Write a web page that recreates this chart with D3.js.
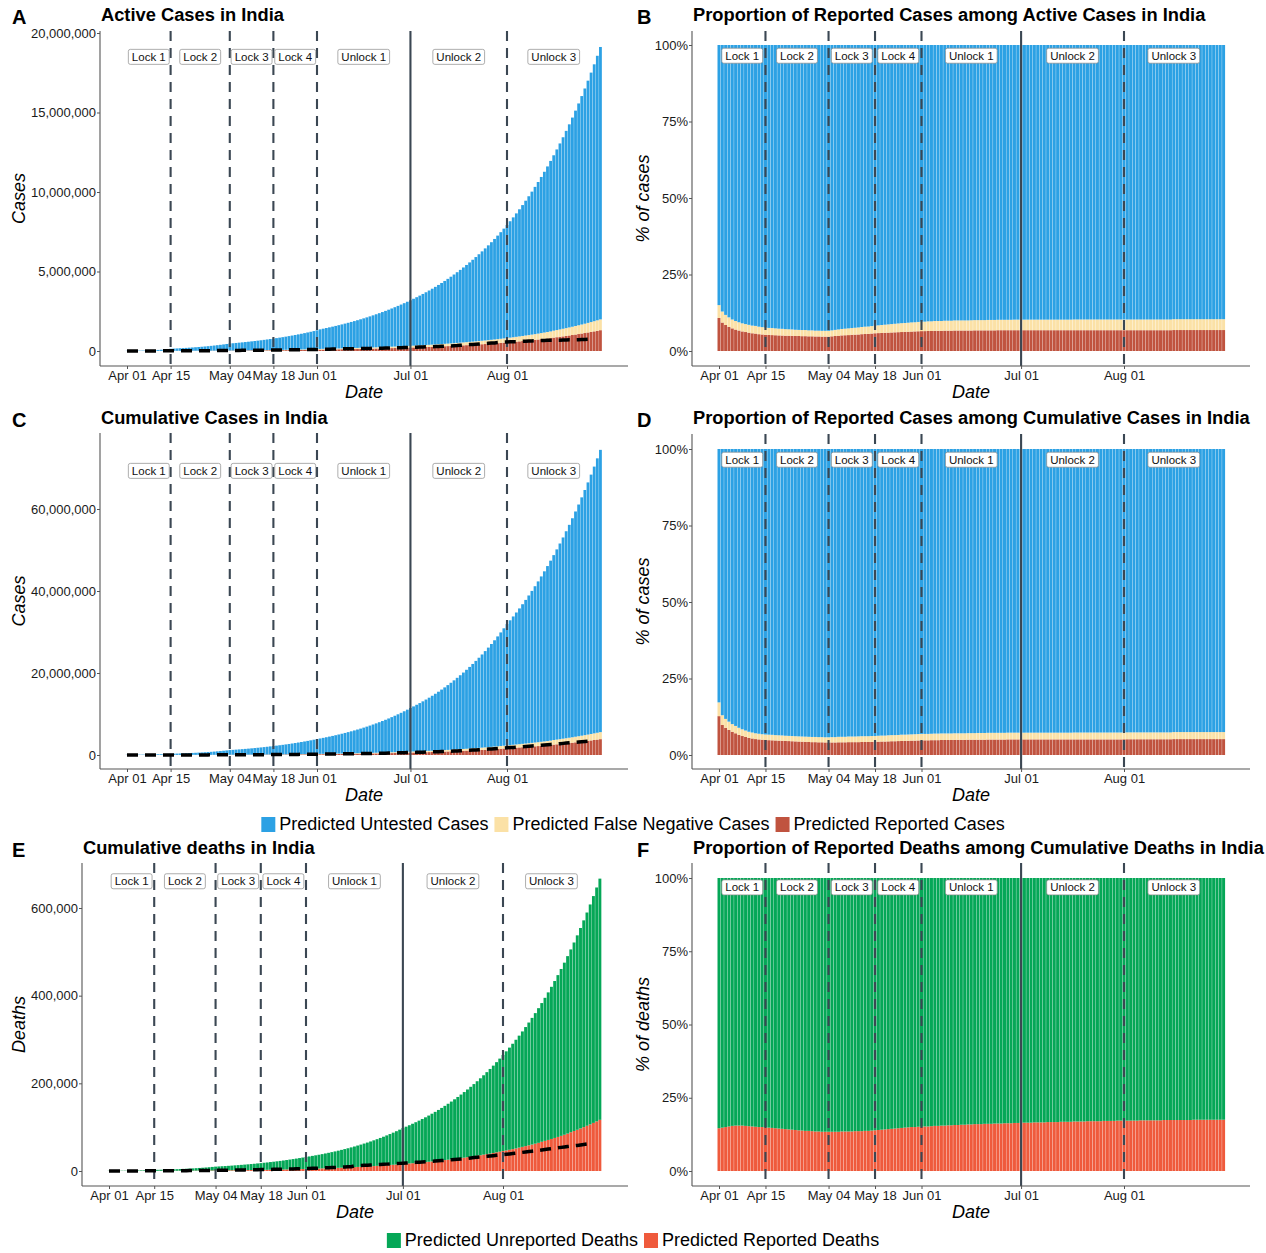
<!DOCTYPE html>
<html>
<head>
<meta charset="utf-8">
<script src="https://cdn.jsdelivr.net/npm/d3@7"></script>
<style>
    body { margin: 0; background: #fff; }
    svg { display: block; font-family: "Liberation Sans", Arial, sans-serif; }
</style>
</head>
<body>
<div id="chart"></div>
<script>

// ---- data (day 0 = 2020-04-01, one value per day) ----
const startDate = "2020-04-01";
const tickDates = ["2020-04-01", "2020-04-15", "2020-05-04", "2020-05-18", "2020-06-01", "2020-07-01", "2020-08-01"];
const phaseEdges = ["2020-04-01", "2020-04-15", "2020-05-04", "2020-05-18", "2020-06-01", "2020-07-01", "2020-08-01", "2020-08-31"];
const phaseNames = ["Lock 1", "Lock 2", "Lock 3", "Lock 4", "Unlock 1", "Unlock 2", "Unlock 3"];
const solidLineDate = "2020-07-01";

// predicted active cases, thousands
const activeTotal = [
    10,12,15,18,22,26,32,38,46,55,67,80,97,117,140,152,162,173,184,196,209,222,237,252,268,285,303,323,344,366,
    389,414,441,469,487,505,524,543,563,584,606,628,651,675,700,726,753,781,810,840,871,903,937,972,1008,1045,1084,1124,1166,1209,1254,
    1300,1362,1403,1445,1488,1532,1578,1625,1673,1723,1774,1827,1881,1937,1995,2054,2115,2178,2243,2310,2379,2450,2523,2598,2675,2755,2837,2921,3008,3098,
    3190,3285,3383,3484,3588,3694,3804,3918,4034,4155,4278,4406,4537,4672,4811,4955,5102,5254,5411,5572,5738,5909,6085,6266,6453,6645,6843,7047,7257,7473,7696,
    7925,8161,8404,8655,8913,9178,9452,9733,10023,10322,10629,10946,11272,11608,11954,12310,12677,13054,13443,13844,14256,14681,15118,15569,16033,16510,17002,17509,18030,18567,19121
];
// share of active cases that are reported / false negative, %
const activeReportedPct = [
    10.8,9.3,8.5,7.9,7.4,7.0,6.7,6.4,6.2,6.0,5.8,5.7,5.5,5.4,5.3,5.25,5.2,5.15,5.1,5.05,5.0,5.0,4.95,4.9,4.9,4.85,4.85,4.8,4.8,4.75,
    4.75,4.7,4.7,4.7,4.8,4.9,5.0,5.1,5.15,5.2,5.3,5.35,5.4,5.5,5.55,5.6,5.7,5.8,5.85,5.9,5.95,6.0,6.05,6.1,6.15,6.2,6.25,6.3,6.35,6.4,6.45,
    6.5,6.5,6.55,6.55,6.6,6.6,6.6,6.65,6.65,6.65,6.7,6.7,6.7,6.7,6.7,6.7,6.75,6.75,6.75,6.75,6.75,6.75,6.75,6.8,6.8,6.8,6.8,6.8,6.8,6.8,
    6.8,6.8,6.8,6.8,6.8,6.8,6.8,6.8,6.8,6.8,6.8,6.8,6.8,6.8,6.8,6.8,6.8,6.8,6.8,6.8,6.8,6.8,6.8,6.8,6.8,6.8,6.8,6.8,6.8,6.8,6.8,
    6.8,6.8,6.8,6.8,6.8,6.8,6.8,6.8,6.8,6.8,6.8,6.8,6.8,6.8,6.8,6.85,6.85,6.85,6.85,6.85,6.85,6.85,6.85,6.85,6.85,6.85,6.85,6.85,6.85,6.85,6.85
];
const activeFalseNegPct = [
    4.2,3.6,3.3,3.1,2.9,2.8,2.7,2.65,2.6,2.55,2.5,2.5,2.45,2.4,2.35,2.3,2.3,2.25,2.2,2.2,2.15,2.1,2.1,2.05,2.0,2.0,2.0,1.95,1.95,1.9,
    1.9,1.9,1.9,1.9,1.95,2.0,2.05,2.1,2.15,2.2,2.2,2.25,2.3,2.35,2.4,2.4,2.45,2.5,2.55,2.6,2.65,2.7,2.75,2.8,2.85,2.9,2.9,2.95,3.0,3.0,3.05,
    3.1,3.1,3.15,3.15,3.2,3.2,3.2,3.25,3.25,3.25,3.3,3.3,3.3,3.3,3.3,3.35,3.35,3.35,3.35,3.35,3.4,3.4,3.4,3.4,3.4,3.4,3.4,3.4,3.45,3.45,
    3.45,3.45,3.45,3.45,3.45,3.45,3.45,3.45,3.45,3.45,3.45,3.45,3.45,3.45,3.45,3.45,3.5,3.5,3.5,3.5,3.5,3.5,3.5,3.5,3.5,3.5,3.5,3.5,3.5,3.5,3.5,
    3.5,3.5,3.5,3.5,3.5,3.5,3.5,3.5,3.5,3.5,3.5,3.5,3.5,3.5,3.5,3.55,3.55,3.55,3.55,3.55,3.55,3.55,3.55,3.55,3.55,3.55,3.55,3.55,3.55,3.55,3.55
];

// predicted cumulative cases, thousands
const cumTotal = [
    50,57,65,73,83,95,108,122,139,158,180,204,232,264,300,323,347,374,402,432,465,500,538,579,623,670,721,775,834,897,
    965,1038,1117,1201,1254,1309,1366,1426,1489,1554,1622,1694,1768,1846,1927,2011,2100,2192,2284,2379,2479,2582,2690,2803,2920,3042,3169,3301,3439,3583,3733,
    3889,4032,4180,4333,4492,4657,4828,5005,5189,5379,5577,5781,5993,6213,6441,6678,6923,7177,7440,7713,7996,8290,8594,8909,9236,9575,9927,10291,10669,11060,
    11466,11851,12249,12661,13086,13526,13980,14450,14936,15437,15956,16492,17046,17619,18211,18823,19455,20109,20785,21483,22205,22951,23722,24519,25343,26194,27074,27984,28924,29896,30901,
    31939,32852,33792,34758,35752,36775,37827,38908,40021,41166,42343,43554,44800,46081,47399,48755,50149,51583,53059,54576,56137,57743,59394,61093,62840,64637,66486,68387,70343,72355,74424
];
const cumReportedPct = [
    12.7,9.8,8.9,8.2,7.6,7.1,6.6,6.2,5.9,5.6,5.4,5.2,5.1,5.0,4.9,4.85,4.8,4.75,4.7,4.65,4.6,4.55,4.5,4.45,4.4,4.35,4.3,4.25,4.2,4.2,
    4.15,4.15,4.1,4.1,4.1,4.1,4.15,4.15,4.15,4.2,4.2,4.2,4.2,4.25,4.25,4.25,4.3,4.3,4.35,4.4,4.4,4.45,4.5,4.5,4.55,4.6,4.6,4.65,4.7,4.7,4.75,
    4.8,4.8,4.8,4.85,4.85,4.85,4.9,4.9,4.9,4.9,4.95,4.95,4.95,4.95,5.0,5.0,5.0,5.0,5.0,5.0,5.05,5.05,5.05,5.05,5.05,5.05,5.1,5.1,5.1,5.1,
    5.1,5.1,5.1,5.1,5.1,5.1,5.1,5.1,5.1,5.1,5.1,5.1,5.1,5.1,5.1,5.1,5.1,5.1,5.1,5.1,5.1,5.1,5.1,5.1,5.1,5.1,5.1,5.1,5.1,5.1,5.1,
    5.15,5.15,5.15,5.15,5.15,5.15,5.15,5.15,5.15,5.15,5.15,5.15,5.15,5.15,5.15,5.2,5.2,5.2,5.2,5.2,5.2,5.2,5.2,5.2,5.2,5.2,5.2,5.2,5.2,5.2,5.2
];
const cumFalseNegPct = [
    4.5,3.2,2.9,2.7,2.5,2.4,2.3,2.2,2.1,2.0,1.95,1.9,1.85,1.8,1.8,1.8,1.8,1.75,1.75,1.75,1.7,1.7,1.7,1.7,1.7,1.7,1.7,1.7,1.7,1.7,
    1.7,1.7,1.7,1.7,1.75,1.75,1.8,1.8,1.8,1.85,1.85,1.85,1.9,1.9,1.9,1.9,1.9,1.9,1.95,1.95,1.95,2.0,2.0,2.0,2.0,2.05,2.05,2.05,2.05,2.1,2.1,
    2.1,2.1,2.1,2.1,2.15,2.15,2.15,2.15,2.15,2.15,2.15,2.15,2.15,2.15,2.15,2.15,2.15,2.2,2.2,2.2,2.2,2.2,2.2,2.2,2.2,2.2,2.2,2.2,2.2,2.2,
    2.2,2.2,2.2,2.2,2.2,2.2,2.2,2.2,2.2,2.2,2.2,2.2,2.2,2.2,2.2,2.2,2.25,2.25,2.25,2.25,2.25,2.25,2.25,2.25,2.25,2.25,2.25,2.25,2.25,2.25,2.25,
    2.25,2.25,2.25,2.25,2.25,2.25,2.25,2.25,2.25,2.25,2.25,2.25,2.25,2.25,2.25,2.3,2.3,2.3,2.3,2.3,2.3,2.3,2.3,2.3,2.3,2.3,2.3,2.3,2.3,2.3,2.3
];

// predicted cumulative deaths, thousands
const deathTotal = [
    0.4,0.46,0.52,0.59,0.68,0.77,0.88,1.0,1.14,1.3,1.48,1.69,1.93,2.2,2.5,2.69,2.89,3.11,3.35,3.6,3.87,4.17,4.48,4.82,5.19,5.58,6.0,6.46,6.95,7.47,
    8.04,8.65,9.3,10.0,10.4,10.9,11.3,11.8,12.3,12.9,13.4,14.0,14.6,15.2,15.9,16.5,17.3,18.0,18.8,19.5,20.4,21.2,22.1,23.0,24.0,25.0,26.1,27.2,28.3,29.5,30.7,
    32.0,33.2,34.5,35.8,37.1,38.5,40.0,41.5,43.1,44.7,46.4,48.2,50.0,51.9,53.9,55.9,58.1,60.3,62.6,64.9,67.4,70.0,72.6,75.4,78.2,81.2,84.3,87.5,90.8,94.3,
    97.9,101.1,104.4,107.8,111.3,114.9,118.7,122.5,126.5,130.7,134.9,139.3,143.9,148.6,153.4,158.4,163.6,168.9,174.4,180.1,186.0,192.1,198.3,204.8,211.5,218.4,225.5,232.8,240.4,248.3,256.4,
    264.7,273.0,281.5,290.3,299.4,308.8,318.4,328.4,338.7,349.3,360.2,371.5,383.1,395.1,407.5,420.2,433.4,446.9,460.9,475.3,490.2,505.5,521.3,537.6,554.4,571.8,589.7,608.1,627.2,646.8,667.0
];
const deathReportedPct = [
    14.6,14.8,15.0,15.2,15.4,15.5,15.5,15.5,15.4,15.3,15.2,15.1,15.0,15.0,14.9,14.8,14.7,14.6,14.5,14.4,14.3,14.2,14.1,14.0,13.9,13.8,13.7,13.7,13.6,13.5,
    13.5,13.4,13.4,13.4,13.4,13.4,13.4,13.5,13.5,13.5,13.5,13.6,13.6,13.6,13.7,13.7,13.8,13.9,14.0,14.1,14.2,14.3,14.4,14.5,14.6,14.7,14.8,14.9,15.0,15.0,15.1,
    15.1,15.2,15.2,15.3,15.4,15.4,15.5,15.5,15.6,15.6,15.7,15.7,15.8,15.8,15.9,15.9,16.0,16.0,16.0,16.1,16.1,16.1,16.2,16.2,16.2,16.3,16.3,16.3,16.4,16.4,
    16.5,16.5,16.5,16.5,16.6,16.6,16.6,16.6,16.7,16.7,16.7,16.7,16.8,16.8,16.8,16.8,16.9,16.9,16.9,16.9,17.0,17.0,17.0,17.0,17.0,17.1,17.1,17.1,17.1,17.2,17.2,
    17.2,17.2,17.2,17.2,17.2,17.3,17.3,17.3,17.3,17.3,17.3,17.3,17.4,17.4,17.4,17.4,17.4,17.4,17.4,17.4,17.4,17.5,17.5,17.5,17.5,17.5,17.5,17.5,17.5,17.5,17.5
];

// observed (reported) series, thousands, Apr 01 - Aug 27
const observedActive = [
    1.8,2.3,2.8,3.2,3.9,4.3,4.8,5.2,5.9,6.6,7.4,8.0,9.1,9.8,10.5,11.2,11.9,12.9,14.2,14.7,15.5,16.5,17.6,18.7,19.9,20.8,21.6,22.6,23.6,24.6,
    26.0,27.6,29.5,32.1,33.5,35.9,37.9,39.8,41.5,44.0,45.9,47.5,49.2,51.4,53.0,53.9,55.9,57.9,61.1,63.6,66.3,69.6,73.6,77.1,80.7,83.0,86.4,89.7,89.9,91.8,93.3,
    97.6,101.5,106.7,110.9,115.9,120.4,125.4,129.2,133.6,137.4,141.8,147.2,149.3,153.1,153.2,155.2,160.4,163.2,168.3,174.4,178.0,178.0,183.0,186.5,189.5,197.4,203.1,210.1,215.1,220.1,
    226.9,227.4,235.4,244.8,253.3,259.6,264.9,269.8,276.7,283.4,292.3,301.6,311.6,319.8,331.1,342.5,358.7,373.4,390.5,401.3,411.1,426.2,440.1,456.1,467.9,485.1,496.9,509.4,528.2,545.3,565.1,
    567.7,579.4,586.2,587.6,595.5,607.4,619.1,628.7,634.9,643.9,653.6,661.6,668.2,676.9,680.0,676.5,673.2,676.9,692.0,697.3,707.3,704.3,704.3,710.8,725.9,725.9,736.0
];
const observedCases = [
    2.0,2.5,3.1,3.6,4.3,4.8,5.3,5.9,6.7,7.6,8.4,9.2,10.5,11.5,12.3,13.4,14.4,15.7,17.6,18.5,20.1,21.4,23.1,24.5,26.3,27.9,29.5,31.3,33.1,34.9,
    37.3,39.7,42.5,46.4,49.4,53.0,56.4,59.7,62.8,67.2,70.8,74.3,78.1,82.0,85.8,90.6,95.7,100.3,106.5,112.0,118.2,124.8,131.4,138.5,145.0,150.8,158.1,165.4,173.5,181.8,190.6,
    198.4,207.2,216.8,226.7,236.2,246.6,257.5,265.9,276.1,286.6,297.5,309.0,320.9,332.4,343.1,354.1,366.9,380.5,395.0,410.5,425.3,440.2,456.2,473.1,490.4,509.0,528.9,548.3,566.8,585.5,
    604.6,625.5,648.3,673.2,697.4,719.7,742.4,767.3,793.8,820.9,849.6,878.3,906.8,936.2,968.9,1003.8,1038.7,1077.8,1118.0,1155.2,1193.1,1238.6,1288.1,1337.0,1385.5,1435.5,1483.2,1531.7,1583.8,1638.9,1696.0,
    1750.7,1803.7,1855.7,1908.3,1964.5,2027.1,2088.6,2153.0,2215.1,2268.7,2329.6,2396.6,2461.2,2526.2,2589.7,2647.7,2702.7,2767.3,2836.9,2905.8,2975.7,3044.9,3106.3,3167.3,3234.5,3310.2,3387.5
];
const observedDeaths = [
    0.06,0.07,0.08,0.10,0.12,0.14,0.15,0.17,0.21,0.24,0.27,0.31,0.35,0.38,0.41,0.44,0.47,0.52,0.56,0.59,0.65,0.68,0.72,0.78,0.83,0.88,0.94,1.01,1.08,1.15,
    1.22,1.32,1.39,1.57,1.69,1.78,1.89,1.98,2.11,2.21,2.29,2.42,2.55,2.65,2.75,2.87,3.03,3.16,3.30,3.44,3.58,3.72,3.87,4.02,4.17,4.34,4.53,4.71,4.97,5.16,5.39,
    5.60,5.83,6.08,6.35,6.64,6.93,7.20,7.47,7.75,8.10,8.50,8.88,9.20,9.52,9.90,11.90,12.24,12.57,12.95,13.25,13.70,14.01,14.48,14.89,15.30,15.69,16.10,16.48,16.89,17.40,
    17.83,18.21,18.66,19.27,19.69,20.16,20.64,21.13,21.60,22.12,22.67,23.17,23.73,24.31,24.92,25.60,26.27,26.82,27.50,28.08,28.73,29.86,30.60,31.36,32.06,32.77,33.43,34.19,34.97,35.75,36.51,
    37.36,38.13,38.94,39.79,40.70,41.59,42.52,43.38,44.39,45.26,46.09,47.03,48.04,49.04,49.98,50.92,51.80,52.89,53.87,54.85,55.79,56.71,57.54,58.39,59.45,60.47,61.53
];

const caseTicks = [0, 5000, 10000, 15000, 20000];
const cumTicks = [0, 20000, 40000, 60000];
const deathTicks = [0, 200, 400, 600];
const pctTicks = [0, 25, 50, 75, 100];

const colUntested = "#2ca1e4";
const colFalseNeg = "#fbe1a6";
const colReported = "#c0533f";
const colUnrepDeath = "#05a757";
const colRepDeath = "#ef5a3c";
const colPhase = "#3b4753";

// ---- helpers ----
const parseDay = d3.utcParse("%Y-%m-%d");
const day0 = parseDay(startDate);
const dayDate = i => d3.utcDay.offset(day0, i);

const svg = d3.select("#chart").append("svg")
    .attr("width", 1266)
    .attr("height", 1253);

function countRows(total, repPct, fnPct) {
    return total.map((t, i) => ({
        date: dayDate(i),
        rep: t * repPct[i] / 100,
        fn: t * fnPct[i] / 100,
        untested: t * (100 - repPct[i] - fnPct[i]) / 100
    }));
}
function pctRows(total, repPct, fnPct) {
    return total.map((t, i) => ({
        date: dayDate(i),
        rep: repPct[i],
        fn: fnPct[i],
        untested: 100 - repPct[i] - fnPct[i]
    }));
}
function deathRows(total, repPct, asPct) {
    return total.map((t, i) => ({
        date: dayDate(i),
        rep: asPct ? repPct[i] : t * repPct[i] / 100,
        unrep: asPct ? 100 - repPct[i] : t * (100 - repPct[i]) / 100
    }));
}

const caseLayers = [
    {key: "rep", color: colReported},
    {key: "fn", color: colFalseNeg},
    {key: "untested", color: colUntested}
];
const deathLayers = [
    {key: "rep", color: colRepDeath},
    {key: "unrep", color: colUnrepDeath}
];

// ---- panel ----
StackPanel = function(_svg, _cfg) {
    this.svg = _svg;
    this.cfg = _cfg;
    this.initVis();
};

StackPanel.prototype.initVis = function() {
    let vis = this;
    const c = vis.cfg;

    vis.g = vis.svg.append("g");

    vis.x = d3.scaleUtc()
        .domain([dayDate(0), dayDate(122)])
        .range([c.x0, c.x122]);
    vis.y = d3.scaleLinear()
        .domain([0, c.yRef])
        .range([c.y0, c.yRefPos]);

    const bw = (vis.x(dayDate(1)) - vis.x(dayDate(0))) * 0.9;

    // stacked bars
    const stacked = d3.stack().keys(c.layers.map(l => l.key))(c.rows);
    vis.g.selectAll("g.layer")
        .data(stacked)
        .enter().append("g")
        .attr("class", "layer")
        .attr("fill", (d, i) => c.layers[i].color)
        .selectAll("rect")
        .data(d => d)
        .enter().append("rect")
        .attr("x", d => vis.x(d.data.date) - bw / 2)
        .attr("width", bw)
        .attr("y", d => vis.y(d[1]))
        .attr("height", d => Math.max(0, vis.y(d[0]) - vis.y(d[1])));

    // phase lines
    const breaks = phaseEdges.slice(1, phaseEdges.length - 1);
    vis.g.selectAll("line.phase")
        .data(breaks)
        .enter().append("line")
        .attr("class", "phase")
        .attr("x1", d => vis.x(parseDay(d)))
        .attr("x2", d => vis.x(parseDay(d)))
        .attr("y1", c.top)
        .attr("y2", c.bottom)
        .attr("stroke", colPhase)
        .attr("stroke-width", 2.1)
        .attr("stroke-dasharray", d => d === solidLineDate ? null : "10,7");

    // observed series
    if (c.observed) {
        const line = d3.line()
            .x((d, i) => vis.x(dayDate(i)))
            .y(d => vis.y(d));
        vis.g.append("path")
            .datum(c.observed)
            .attr("d", line)
            .attr("fill", "none")
            .attr("stroke", "#000")
            .attr("stroke-width", 3.5)
            .attr("stroke-dasharray", "11,7");
    }

    // phase labels
    phaseNames.forEach((name, i) => {
        const mx = (vis.x(parseDay(phaseEdges[i])) + vis.x(parseDay(phaseEdges[i + 1]))) / 2;
        const my = vis.y(c.labelY);
        const lg = vis.g.append("g");
        const box = lg.append("rect");
        const t = lg.append("text")
            .attr("x", mx)
            .attr("y", my + 4)
            .attr("text-anchor", "middle")
            .attr("font-size", 11.5)
            .attr("fill", "#111")
            .text(name);
        const w = t.node().getComputedTextLength() + 7;
        box.attr("x", mx - w / 2).attr("y", my - 7.5)
            .attr("width", w).attr("height", 15)
            .attr("rx", 2)
            .attr("fill", "#fff")
            .attr("stroke", "#8a8a8a")
            .attr("stroke-width", 0.7);
    });

    // axes
    const yAxis = d3.axisLeft(vis.y)
        .tickValues(c.yTicks)
        .tickSize(3)
        .tickPadding(1)
        .tickFormat(c.yFormat);
    const ya = vis.g.append("g")
        .attr("transform", "translate(" + c.left + ",0)")
        .call(yAxis);
    const xAxis = d3.axisBottom(vis.x)
        .tickValues(tickDates.map(parseDay))
        .tickSize(3)
        .tickPadding(2)
        .tickFormat(d3.utcFormat("%b %d"));
    const xa = vis.g.append("g")
        .attr("transform", "translate(0," + c.bottom + ")")
        .call(xAxis);
    [ya, xa].forEach(a => {
        a.select(".domain").remove();
        a.selectAll(".tick line").attr("stroke", "#555");
        a.selectAll(".tick text")
            .attr("font-size", 13)
            .attr("font-family", "Liberation Sans, Arial, sans-serif")
            .attr("fill", "#1a1a1a");
    });
    vis.g.append("line")
        .attr("x1", c.left).attr("x2", c.left)
        .attr("y1", c.top).attr("y2", c.bottom)
        .attr("stroke", "#555").attr("stroke-width", 1.1);
    vis.g.append("line")
        .attr("x1", c.left).attr("x2", c.right)
        .attr("y1", c.bottom).attr("y2", c.bottom)
        .attr("stroke", "#555").attr("stroke-width", 1.1);

    // texts
    vis.g.append("text")
        .attr("x", c.letterX)
        .attr("y", c.titleY + 3)
        .attr("font-size", 20)
        .attr("font-weight", "bold")
        .attr("fill", "#000")
        .text(c.letter);
    vis.g.append("text")
        .attr("x", c.titleX)
        .attr("y", c.titleY)
        .attr("font-size", 18.3)
        .attr("font-weight", "bold")
        .attr("fill", "#000")
        .text(c.title);
    vis.g.append("text")
        .attr("x", (c.left + c.right) / 2)
        .attr("y", c.bottom + 32)
        .attr("text-anchor", "middle")
        .attr("font-size", 18)
        .attr("font-style", "italic")
        .attr("fill", "#000")
        .text("Date");
    vis.g.append("text")
        .attr("transform", "translate(" + c.yLabelX + "," + ((c.top + c.bottom) / 2) + ") rotate(-90)")
        .attr("text-anchor", "middle")
        .attr("font-size", 18)
        .attr("font-style", "italic")
        .attr("fill", "#000")
        .text(c.yLabel);
};

const fmtCount = v => d3.format(",")(Math.round(v * 1000));
const fmtPct = v => v + "%";

new StackPanel(svg, {
    letter: "A", letterX: 12, title: "Active Cases in India", titleX: 101, titleY: 21,
    yLabel: "Cases", yLabelX: 25,
    left: 100, right: 628, top: 31, bottom: 366,
    x0: 127, x122: 507, y0: 351, yRef: 20000, yRefPos: 33,
    yTicks: caseTicks, yFormat: fmtCount, labelY: 18500,
    rows: countRows(activeTotal, activeReportedPct, activeFalseNegPct),
    layers: caseLayers, observed: observedActive
});
new StackPanel(svg, {
    letter: "B", letterX: 637, title: "Proportion of Reported Cases among Active Cases in India", titleX: 693, titleY: 21,
    yLabel: "% of cases", yLabelX: 649,
    left: 692, right: 1250, top: 31, bottom: 366,
    x0: 719, x122: 1124, y0: 351, yRef: 100, yRefPos: 45,
    yTicks: pctTicks, yFormat: fmtPct, labelY: 96.5,
    rows: pctRows(activeTotal, activeReportedPct, activeFalseNegPct),
    layers: caseLayers
});
new StackPanel(svg, {
    letter: "C", letterX: 12, title: "Cumulative Cases in India", titleX: 101, titleY: 424,
    yLabel: "Cases", yLabelX: 25,
    left: 100, right: 628, top: 433, bottom: 769,
    x0: 127, x122: 507, y0: 755, yRef: 60000, yRefPos: 509,
    yTicks: cumTicks, yFormat: fmtCount, labelY: 69300,
    rows: countRows(cumTotal, cumReportedPct, cumFalseNegPct),
    layers: caseLayers, observed: observedCases
});
new StackPanel(svg, {
    letter: "D", letterX: 637, title: "Proportion of Reported Cases among Cumulative Cases in India", titleX: 693, titleY: 424,
    yLabel: "% of cases", yLabelX: 649,
    left: 692, right: 1250, top: 434, bottom: 769,
    x0: 719, x122: 1124, y0: 755, yRef: 100, yRefPos: 449,
    yTicks: pctTicks, yFormat: fmtPct, labelY: 96.5,
    rows: pctRows(cumTotal, cumReportedPct, cumFalseNegPct),
    layers: caseLayers
});
new StackPanel(svg, {
    letter: "E", letterX: 12, title: "Cumulative deaths in India", titleX: 83, titleY: 854,
    yLabel: "Deaths", yLabelX: 25,
    left: 82, right: 628, top: 863, bottom: 1186,
    x0: 109, x122: 503, y0: 1171, yRef: 600, yRefPos: 908,
    yTicks: deathTicks, yFormat: fmtCount, labelY: 661,
    rows: deathRows(deathTotal, deathReportedPct, false),
    layers: deathLayers, observed: observedDeaths
});
new StackPanel(svg, {
    letter: "F", letterX: 637, title: "Proportion of Reported Deaths among Cumulative Deaths in India", titleX: 693, titleY: 854,
    yLabel: "% of deaths", yLabelX: 649,
    left: 692, right: 1250, top: 863, bottom: 1186,
    x0: 719, x122: 1124, y0: 1171, yRef: 100, yRefPos: 878,
    yTicks: pctTicks, yFormat: fmtPct, labelY: 96.8,
    rows: deathRows(deathTotal, deathReportedPct, true),
    layers: deathLayers
});

// ---- legends ----
function drawLegend(items, cy) {
    const g = svg.append("g");
    let xPos = 0;
    items.forEach(it => {
        g.append("rect")
            .attr("x", xPos).attr("y", cy - 7)
            .attr("width", 14).attr("height", 15)
            .attr("fill", it.color);
        const t = g.append("text")
            .attr("x", xPos + 18)
            .attr("y", cy + 6)
            .attr("font-size", 18)
            .attr("fill", "#000")
            .text(it.label);
        xPos += 18 + t.node().getComputedTextLength() + 6;
    });
    g.attr("transform", "translate(" + (633 - (xPos - 6) / 2) + ",0)");
}
drawLegend([
    {label: "Predicted Untested Cases", color: colUntested},
    {label: "Predicted False Negative Cases", color: colFalseNeg},
    {label: "Predicted Reported Cases", color: colReported}
], 824);
drawLegend([
    {label: "Predicted Unreported Deaths", color: colUnrepDeath},
    {label: "Predicted Reported Deaths", color: colRepDeath}
], 1240);

</script>
</body>
</html>
